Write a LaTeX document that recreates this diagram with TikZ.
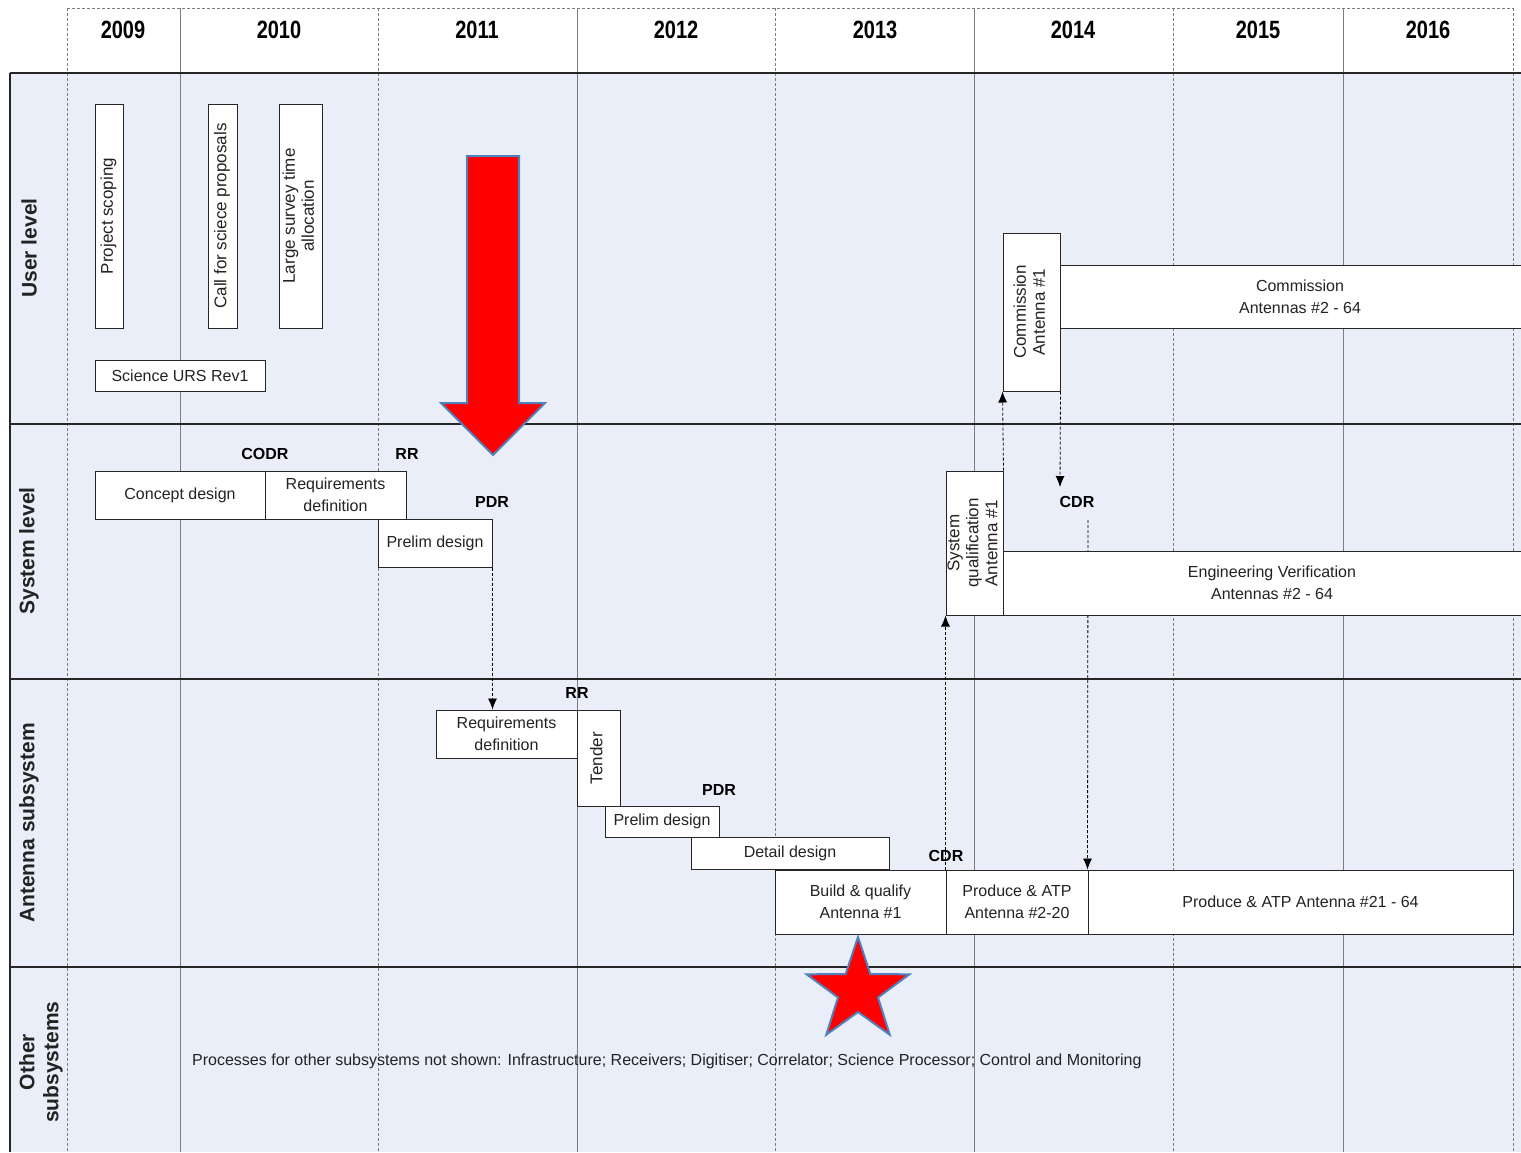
\documentclass[tikz,border=0pt]{standalone}
\usepackage{fontspec}
\setmainfont{Liberation Sans}
\usetikzlibrary{arrows.meta}
\definecolor{lanebg}{RGB}{233,238,248}
\definecolor{gridc}{RGB}{125,125,125}
\definecolor{txt}{RGB}{35,35,35}
\definecolor{arrowedge}{RGB}{79,129,189}
\newcommand{\bx}[6]{\node[bx, minimum width={(#4-(#2))*1pt}, minimum height={(#5-(#3))*1pt}] (#1) at ({(#2+#4)/2},{(#3+#5)/2}) {#6};}
\newcommand{\rt}[1]{\rotatebox{90}{\fontsize{17}{19}\selectfont\begin{tabular}{@{}c@{}}#1\end{tabular}}}
\newcommand{\yrtxt}[1]{\scalebox{1}[1.25]{#1}}
\begin{document}
\begin{tikzpicture}[x=1pt,y=-1pt,
  bx/.style={draw=black!85, fill=white, line width=1pt, inner sep=0pt, align=center,
             font=\fontsize{16}{22}\selectfont, text=txt},
  ms/.style={font=\fontsize{16}{19}\selectfont\bfseries, text=black},
  yr/.style={font=\fontsize{20}{24}\selectfont\bfseries, text=black},
  lanelbl/.style={font=\fontsize{21}{24}\selectfont\bfseries, rotate=90, align=center, text=txt},
  darr/.style={densely dashed, line width=0.8pt, black, -{Latex[length=11pt,width=9pt]}},
  gridsolid/.style={gridc, line width=0.7pt},
  griddash/.style={gridc, line width=0.7pt, densely dashed},
  laneline/.style={black!85, line width=1.2pt}]
\useasboundingbox (0,0) rectangle (1521,1152);
\fill[white] (0,0) rectangle (1521,1152);
% lane background
\fill[lanebg] (10,73) rectangle (1521,1152);
% top dashed line of header
\draw[griddash] (67,8) -- (1513,8);
% vertical grid lines
\foreach \x in {67,378,775,1173,1513} \draw[griddash] (\x,8) -- (\x,1152);
\foreach \x in {180,577,974,1343} \draw[gridsolid] (\x,8) -- (\x,1152);
% lane lines
\draw[laneline] (10,73) -- (1521,73);
\foreach \y in {424,679,967} \draw[laneline] (10,\y) -- (1521,\y);
\draw[laneline] (10,73) -- (10,1152);
% years
\node[yr] (y2009) at (123,30) {\yrtxt{2009}};
\node[yr] (y2010) at (279,30) {\yrtxt{2010}};
\node[yr] (y2011) at (477,30) {\yrtxt{2011}};
\node[yr] (y2012) at (676,30) {\yrtxt{2012}};
\node[yr] (y2013) at (875,30) {\yrtxt{2013}};
\node[yr] (y2014) at (1073,30) {\yrtxt{2014}};
\node[yr] (y2015) at (1258,30) {\yrtxt{2015}};
\node[yr] (y2016) at (1428,30) {\yrtxt{2016}};
% lane labels
\node[lanelbl] (lUser) at (29,248) {User level};
\node[lanelbl] (lSys) at (29,551) {System level};
\node[lanelbl] (lAnt) at (29,823) {Antenna subsystem};
\node[lanelbl] (lOther) at (41,1062) {Other\\subsystems};
% milestone labels
\node[ms] (codr) at (265,454) {CODR};
\node[ms] (rr1) at (407,454) {RR};
\node[ms] (pdr1) at (492,502) {PDR};
\node[ms] (cdr1) at (1077,502) {CDR};
\node[ms] (rr2) at (577,693) {RR};
\node[ms] (pdr2) at (719,790) {PDR};
\node[ms] (cdr2) at (946,856) {CDR};
% coordinates for free ends
\coordinate (cdrArrowEnd) at (1060,487);
\coordinate (cdrLineStart) at (1088,520);
% boxes: user level
\bx{scoping}{95}{104}{123}{328}{\rt{Project scoping}}
\bx{callprop}{208}{104}{237}{328}{\rt{Call for sciece proposals}}
\bx{survey}{279}{104}{322}{328}{\rt{Large survey time\\allocation}}
\bx{urs}{95}{360}{265}{391}{Science URS Rev1}
\bx{comm1}{1003}{233}{1060}{391}{\rt{Commission\\Antenna \#1}}
\bx{commN}{1060}{265}{1540}{328}{Commission\\Antennas \#2 - 64}
% system level
\bx{concept}{95}{471}{265}{519}{Concept design}
\bx{sysreq}{265}{471}{406}{519}{Requirements\\definition}
\bx{sysprelim}{378}{519}{492}{567}{Prelim design}
\bx{sysqual}{946}{471}{1003}{615}{\rt{System\\qualification\\Antenna \#1}}
% antenna subsystem
\bx{antreq}{436}{710}{577}{758}{Requirements\\definition}
\bx{tender}{577}{710}{620}{806}{\rt{Tender}}
\bx{antprelim}{605}{806}{719}{837}{Prelim design}
\bx{detail}{691}{837}{889}{869}{Detail design}
\bx{build}{775}{870}{946}{934}{Build \& qualify\\Antenna \#1}
\bx{prodA}{946}{870}{1088}{934}{Produce \& ATP\\Antenna \#2-20}
\bx{prodB}{1088}{870}{1513}{934}{Produce \& ATP Antenna \#21 - 64}
% CDR line (drawn beneath the engineering verification box)
\draw[darr] (cdrLineStart) -- (prodB.north west);
\bx{engver}{1003}{551}{1541}{615}{Engineering Verification\\Antennas \#2 - 64}
% re-clip right overhang
\fill[white] (1521,0) rectangle (1545,1152);
% dashed connectors
\draw[darr] (sysprelim.south east) -- (sysprelim.south east |- antreq.north);
\draw[darr] (prodA.north west) -- (sysqual.south west);
\draw[darr] (sysqual.north east) -- (comm1.south west);
\draw[darr] (comm1.south east) -- (cdrArrowEnd);
% other subsystems text
\node[anchor=west, font=\fontsize{16}{19}\selectfont, text=txt, inner sep=0pt] (othertxt) at (192,1061)
  {Processes for other subsystems not shown: Infrastructure; Receivers; Digitiser; Correlator; Science Processor; Control and Monitoring};
% red arrow
\draw[fill=red, draw=arrowedge, line width=2pt, line join=miter]
  (467,156) -- (519,156) -- (519,403) -- (545,403) -- (493,455) -- (441,403) -- (467,403) -- cycle;
% red star
\draw[fill=red, draw=arrowedge, line width=2pt, line join=miter]
  plot[samples at={0,...,9}, variable=\k] ({858+(mod(\k,2)==0 ? 54 : 21)*cos(90+36*\k)}, {991-(mod(\k,2)==0 ? 54 : 21)*sin(90+36*\k)}) -- cycle;
\end{tikzpicture}
\end{document}
